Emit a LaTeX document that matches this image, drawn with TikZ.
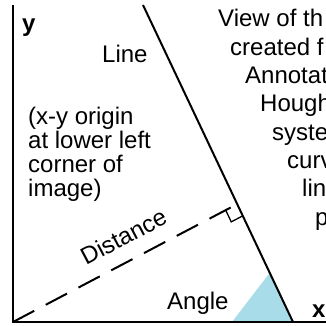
\documentclass[tikz,border=0pt]{standalone}
\usepackage{fontspec}
\setmainfont{Liberation Sans}
\usetikzlibrary{calc}
\definecolor{wedgeblue}{RGB}{168,220,232}
\tikzset{
  axis/.style={line width=2.4pt},
  mainline/.style={line width=2pt},
  distline/.style={line width=2pt, dash pattern=on 24pt off 13pt},
  rightmark/.style={line width=1.3pt},
  lbl/.style={anchor=base west, inner sep=0pt, font=\fontsize{24}{28}\selectfont},
  axlbl/.style={anchor=base west, inner sep=0pt, font=\fontsize{24}{28}\selectfont\bfseries},
}
\begin{document}
\begin{tikzpicture}[x={(1pt,0pt)}, y={(0pt,-1pt)}]
\path[fill=white] (0,0) rectangle (326,326);
\useasboundingbox (0,0) rectangle (326,326);
% key points
\coordinate (O) at (13,322);
\coordinate (Ytop) at (13,5);
\coordinate (Xend) at (330,322);
\coordinate (T) at (143,5);
\coordinate (B) at (293,322);
\coordinate (F) at ($(T)!0.628!(B)$);
\coordinate (W1) at (232,322);
\coordinate (W2) at ($(T)!0.845!(B)$);
% angle wedge
\fill[wedgeblue] (W1) -- (B) -- (W2) -- cycle;
% distance (dashed) and right-angle mark
\draw[distline] (O) -- (F);
\coordinate (F1) at ($(F)!13pt!(O)$);
\coordinate (F2) at ($(F)!13pt!(B)$);
\coordinate (F3) at ($(F1)+(F2)-(F)$);
\draw[rightmark] (F1) -- (F3) -- (F2);
% the line
\draw[mainline] (T) -- (B);
% axes
\draw[axis] (Ytop) -- (O) -- (Xend);
% labels
\node[axlbl] (ylab) at (22,32) {y};
\node[axlbl] (xlab) at (312,317) {x};
\node[lbl] (linelab) at (102,63) {Line};
\node[lbl] (anglelab) at (167,309) {Angle};
\node[lbl, rotate=27.8] (distlab) at (86,266) {Distance};
\node[lbl] (l1) at (28,124) {(x-y origin};
\node[lbl] (l2) at (28,148) {at lower left};
\node[lbl] (l3) at (28,172) {corner of};
\node[lbl] (l4) at (28,196) {image)};
\node[lbl] (r1) at (218,27) {View of th};
\node[lbl] (r2) at (230,55.3) {created f};
\node[lbl] (r3) at (245,83.6) {Annotat};
\node[lbl] (r4) at (260,111.9) {Hough};
\node[lbl] (r5) at (272,140.2) {syste};
\node[lbl] (r6) at (287,168.5) {curv};
\node[lbl] (r7) at (302,196.8) {lin};
\node[lbl] (r8) at (315,225.1) {p};
\end{tikzpicture}
\end{document}
